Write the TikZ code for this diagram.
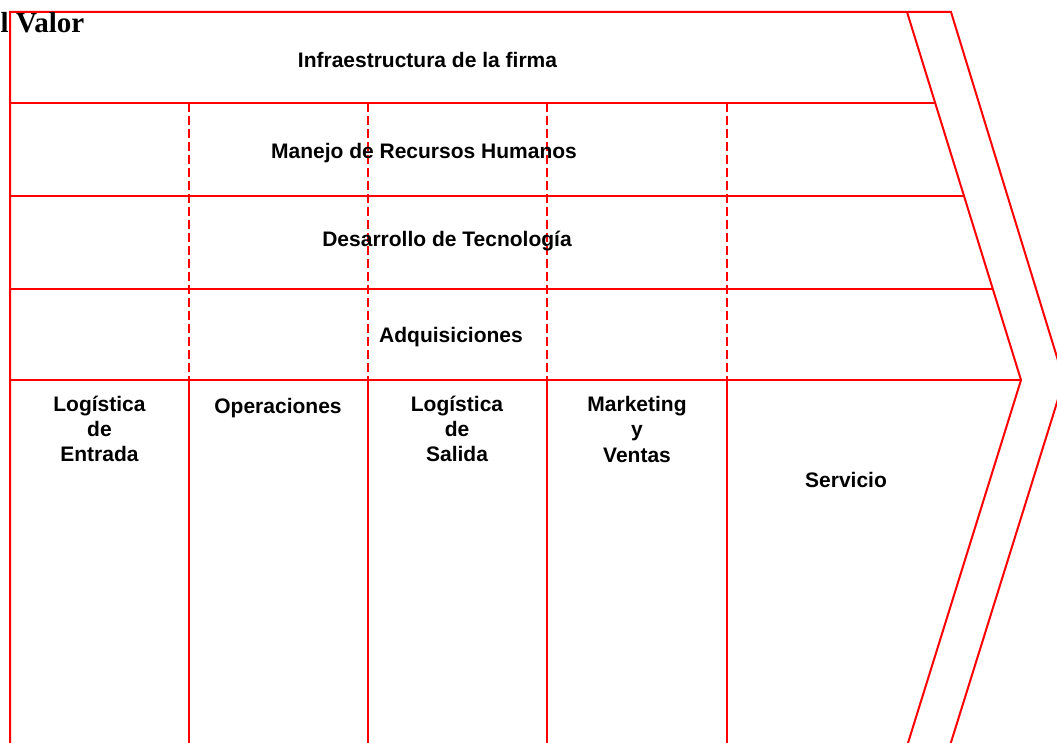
\documentclass[tikz,border=0pt]{standalone}
\usepackage{fontspec}
\setmainfont{Liberation Sans}
\newfontfamily\titlefont{Liberation Serif}
\begin{document}
\begin{tikzpicture}[x=1pt,y=-1pt,
  frame/.style={draw=red, line width=2pt},
  dashline/.style={draw=red, line width=1.6pt, dash pattern=on 9pt off 4pt},
  colline/.style={draw=red, line width=2.8pt},
  lab/.style={font=\fontsize{21}{25.2}\selectfont\bfseries, inner sep=0pt, align=center, anchor=base}]
\useasboundingbox (0,0) rectangle (1057,743);
% outline and arrow
\draw[frame] (10,750) -- (10,12) -- (951,12) -- (1064,380) -- (948.6,750);
\draw[frame] (907,12) -- (1021,380) -- (905.8,750);
% horizontal rows
\draw[frame] (10,103) -- (935.2,103);
\draw[frame] (10,196) -- (964,196);
\draw[frame] (10,289) -- (992.8,289);
\draw[frame] (10,380) -- (1021,380);
% dashed verticals in support activities, solid in primary activities
\foreach \x in {189,368,547,727} {
  \draw[dashline] (\x,103) -- (\x,380);
  \draw[colline] (\x,380) -- (\x,750);
}
% title
\node[font=\titlefont\fontsize{29}{34}\selectfont\bfseries, inner sep=0pt, anchor=base west] (title) at (0.5,33) {l Valor};
% labels (multi-line nodes: base anchor is the last line's baseline)
\node[lab] (infra) at (427.5,68) {Infraestructura de la firma};
\node[lab] (rrhh) at (424,159) {Manejo de Recursos Humanos};
\node[lab] (tec) at (447,247) {Desarrollo de Tecnología};
\node[lab] (adq) at (451,342) {Adquisiciones};
\node[lab] (ent) at (99.5,461.4) {Logística\\de\\Entrada};
\node[lab] (ops) at (278,413) {Operaciones};
\node[lab] (sal) at (457,461.4) {Logística\\de\\Salida};
\node[lab] (mkt) at (637,462) {Marketing\\y\\Ventas};
\node[lab] (serv) at (846,487) {Servicio};
\end{tikzpicture}
\end{document}
